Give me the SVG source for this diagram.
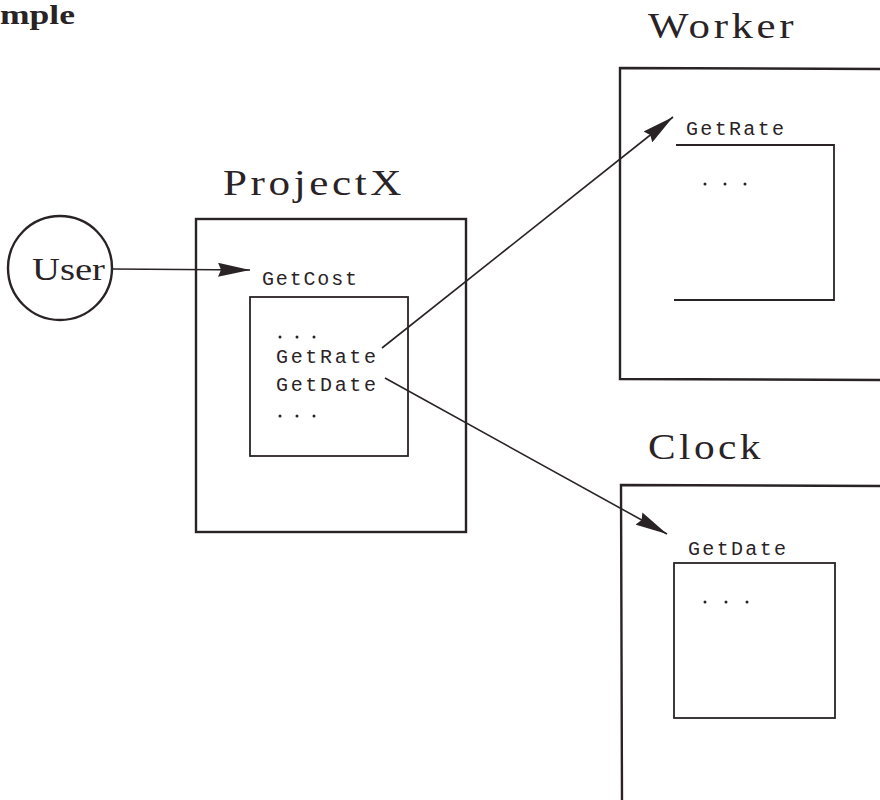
<svg xmlns="http://www.w3.org/2000/svg" width="880" height="800" viewBox="0 0 880 800">
  <defs>
    <marker id="head" viewBox="0 0 32 14" refX="32" refY="7" markerWidth="32" markerHeight="14" markerUnits="userSpaceOnUse" orient="auto">
      <path d="M0,0 L32,7 L0,14 L3,7 Z" fill="#2a2326"/>
    </marker>
    <style>
      .box { fill: none; stroke: #2a2326; stroke-width: 2.4; }
      .inner { fill: none; stroke: #2a2326; stroke-width: 1.8; }
      .title { font-family: "Liberation Serif", "DejaVu Serif", serif; font-size: 36px; letter-spacing: 3px; fill: #2a2326; }
      .op { font-family: "Liberation Mono", "DejaVu Sans Mono", monospace; font-size: 20px; fill: #2a2326; }
      .dots { fill: #2a2326; }
      .edge { fill: none; stroke: #2a2326; stroke-width: 1.6; marker-end: url(#head); }
    </style>
  </defs>
  <rect width="880" height="800" fill="#ffffff"/>

  <text x="0" y="24" font-family="Liberation Serif, serif" font-weight="bold" font-size="27" fill="#2a2326" textLength="75" lengthAdjust="spacingAndGlyphs">mple</text>

  <!-- User actor -->
  <g id="user">
    <circle cx="60" cy="268" r="52" class="box"/>
    <text x="32" y="280" font-family="Liberation Serif, serif" font-size="31" fill="#2a2326" textLength="73" lengthAdjust="spacingAndGlyphs">User</text>
  </g>

  <!-- ProjectX module -->
  <g id="projectx">
    <text class="title" x="223" y="195" textLength="182" lengthAdjust="spacingAndGlyphs">ProjectX</text>
    <rect x="196" y="219" width="270" height="313" class="box"/>
    <text class="op" x="262" y="285" textLength="95" lengthAdjust="spacing">GetCost</text>
    <rect x="250" y="297" width="158" height="159" class="inner"/>
    <g class="dots">
      <circle cx="280" cy="337" r="1.5"/><circle cx="297" cy="337" r="1.5"/><circle cx="314" cy="337" r="1.5"/>
      <circle cx="280" cy="416" r="1.5"/><circle cx="297" cy="416" r="1.5"/><circle cx="314" cy="416" r="1.5"/>
    </g>
    <text class="op" x="276" y="363" textLength="100" lengthAdjust="spacing">GetRate</text>
    <text class="op" x="276" y="391" textLength="100" lengthAdjust="spacing">GetDate</text>
  </g>

  <!-- Worker module -->
  <g id="worker">
    <text class="title" x="648" y="38" textLength="149" lengthAdjust="spacingAndGlyphs">Worker</text>
    <path d="M882,69 L620,68 L620,379 L882,380" class="box"/>
    <text class="op" x="686" y="135" textLength="98" lengthAdjust="spacing">GetRate</text>
    <path d="M676,145 L834,145 L834,300 L674,300" class="inner"/>
    <g class="dots">
      <circle cx="705" cy="184" r="1.5"/><circle cx="725" cy="184" r="1.5"/><circle cx="745" cy="184" r="1.5"/>
    </g>
  </g>

  <!-- Clock module -->
  <g id="clock">
    <text class="title" x="648" y="459" textLength="116" lengthAdjust="spacingAndGlyphs">Clock</text>
    <path d="M882,486 L621,485 L622,802" class="box"/>
    <text class="op" x="688" y="555" textLength="98" lengthAdjust="spacing">GetDate</text>
    <rect x="674" y="563" width="161" height="155" class="inner"/>
    <g class="dots">
      <circle cx="705" cy="602" r="1.5"/><circle cx="726" cy="602" r="1.5"/><circle cx="747" cy="602" r="1.5"/>
    </g>
  </g>

  <!-- Calls between modules -->
  <g id="connectors">
    <line x1="113" y1="269" x2="250" y2="270" class="edge"/>
    <line x1="382" y1="348" x2="673" y2="117" class="edge"/>
    <line x1="385" y1="378" x2="667" y2="534" class="edge"/>
  </g>
</svg>
